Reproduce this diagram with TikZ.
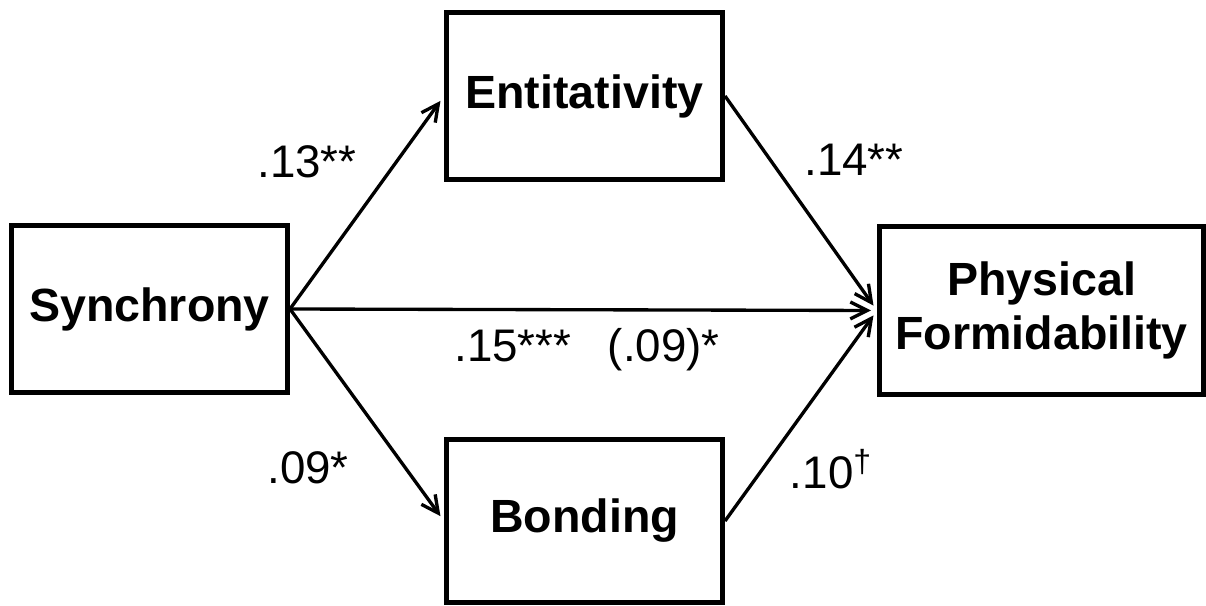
\documentclass[tikz,border=0pt]{standalone}
\usepackage{fontspec}
\setmainfont{Liberation Sans}
\usetikzlibrary{arrows.meta}

\begin{document}
\begin{tikzpicture}[
    >={Straight Barb[length=3.4mm, width=3.4mm, line width=1.9pt]},
    var/.style={
        rectangle, draw=black, line width=2.85pt, fill=white,
        minimum width=5.52cm, minimum height=3.34cm, align=center,
        font=\fontsize{26.5}{30.5}\selectfont\bfseries, inner sep=2pt
    },
    path/.style={->, line width=1.9pt, black, shorten >=0.12cm},
    coef/.style={font=\fontsize{26}{30}\selectfont, inner sep=0pt},
]
\useasboundingbox (0,0) rectangle (24.12,-12.12);

% ── Variables ──
\node[var] (sync)  at (2.99,-6.18)   {Synchrony};
\node[var] (ent)   at (11.69,-1.92)  {Entitativity};
\node[var, minimum height=3.26cm] (bond) at (11.69,-10.42) {Bonding};
\node[var, minimum width=6.48cm, minimum height=3.36cm] (phys) at (20.83,-6.21)
    {Physical\\Formidability};

% ── Paths ──
\draw[path] (sync.east) -- (ent.west);
\draw[path] (sync.east) -- (bond.west);
\draw[path] (ent.east)  -- (phys.west);
\draw[path] (bond.east) -- (phys.west);
\draw[path] (sync.east) -- (phys.west);

% ── Coefficients ──
\node[coef] (c13)    at (6.14,-3.24)  {.13**};
\node[coef] (c14)    at (17.08,-3.20) {.14**};
\node[coef] (c09)    at (6.16,-9.36)  {.09*};
\node[coef] (c10)    at (16.62,-9.38) {.10\textsuperscript{\textdagger}};
\node[coef] (cdirect) at (11.74,-7.00) {.15***\hspace{0.8em}(.09)*};

\end{tikzpicture}
\end{document}
